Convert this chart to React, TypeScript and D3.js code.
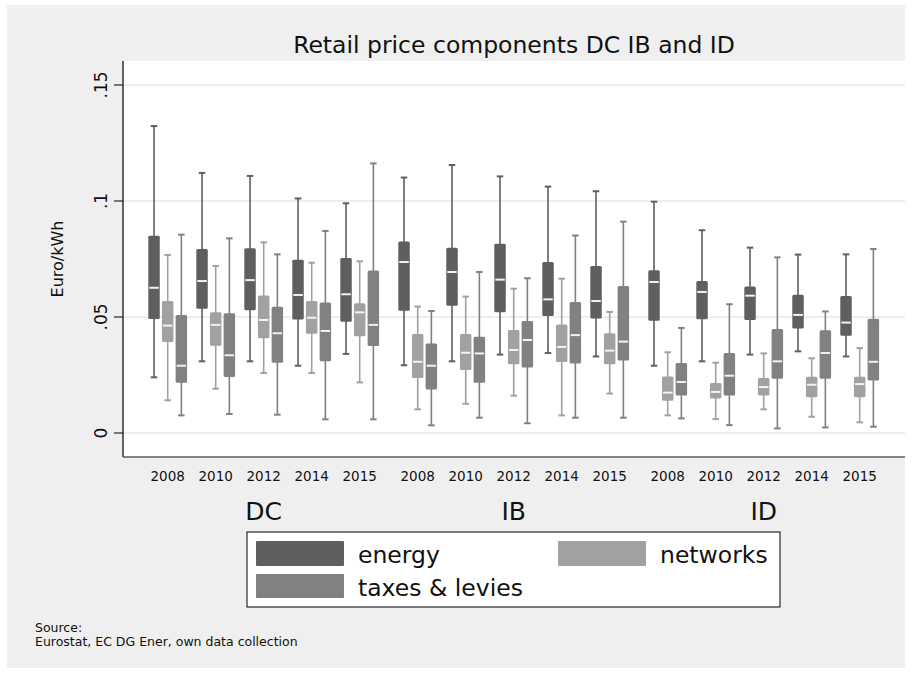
import React from "react";
import * as d3 from "d3";

const groups = ["DC", "IB", "ID"];
const years = ["2008", "2010", "2012", "2014", "2015"];
const components = ["energy", "networks", "taxes"];
const legendLabels = ["energy", "networks", "taxes & levies"];
const yTicks = [0, 0.05, 0.1, 0.15];
const yTickLabels = ["0", ".05", ".1", ".15"];

// each entry: [lower whisker, q1, median, q3, upper whisker]
const energyDC = [
  [0.024, 0.0491, 0.0626, 0.085, 0.1323],
  [0.0309, 0.0536, 0.0655, 0.0793, 0.1121],
  [0.0309, 0.0529, 0.0659, 0.0796, 0.1108],
  [0.029, 0.0489, 0.0595, 0.0747, 0.1011],
  [0.0341, 0.048, 0.0598, 0.0754, 0.099],
];
const networksDC = [
  [0.0141, 0.0392, 0.0463, 0.0569, 0.0767],
  [0.0191, 0.0376, 0.0466, 0.052, 0.072],
  [0.0259, 0.0408, 0.0487, 0.0593, 0.0822],
  [0.0259, 0.0428, 0.0497, 0.0569, 0.0734],
  [0.0218, 0.0417, 0.052, 0.0559, 0.074],
];
const taxesDC = [
  [0.0076, 0.0217, 0.029, 0.0509, 0.0855],
  [0.0082, 0.0241, 0.0335, 0.0516, 0.0839],
  [0.0079, 0.0303, 0.043, 0.0544, 0.077],
  [0.0059, 0.0309, 0.044, 0.0562, 0.0871],
  [0.0059, 0.0375, 0.0466, 0.07, 0.1162],
];
const energyIB = [
  [0.0292, 0.0527, 0.0737, 0.0825, 0.1101],
  [0.0309, 0.0549, 0.0694, 0.0799, 0.1155],
  [0.0338, 0.052, 0.0661, 0.0816, 0.1106],
  [0.0345, 0.0504, 0.0576, 0.0737, 0.1062],
  [0.033, 0.0494, 0.0569, 0.072, 0.1042],
];
const networksIB = [
  [0.0102, 0.0237, 0.0307, 0.0427, 0.0545],
  [0.0126, 0.0272, 0.0346, 0.0427, 0.0588],
  [0.0161, 0.0296, 0.0358, 0.0444, 0.0622],
  [0.0076, 0.0306, 0.0371, 0.0468, 0.0665],
  [0.017, 0.0296, 0.0355, 0.043, 0.0522],
];
const taxesIB = [
  [0.0033, 0.0187, 0.029, 0.0386, 0.0526],
  [0.0066, 0.0217, 0.0343, 0.0415, 0.0694],
  [0.0042, 0.0282, 0.0401, 0.0483, 0.0667],
  [0.0066, 0.03, 0.0422, 0.0565, 0.0851],
  [0.0066, 0.0312, 0.0394, 0.0634, 0.0911],
];
const energyID = [
  [0.029, 0.0484, 0.0651, 0.0701, 0.0997],
  [0.0309, 0.049, 0.0608, 0.0655, 0.0874],
  [0.0338, 0.0487, 0.0592, 0.0631, 0.0799],
  [0.0352, 0.045, 0.0509, 0.0596, 0.0769],
  [0.033, 0.0419, 0.0476, 0.0591, 0.077],
];
const networksID = [
  [0.0076, 0.0139, 0.0174, 0.0244, 0.0348],
  [0.006, 0.0149, 0.0177, 0.0216, 0.0303],
  [0.0102, 0.0162, 0.0198, 0.0237, 0.0343],
  [0.007, 0.0154, 0.0208, 0.0243, 0.0322],
  [0.0046, 0.0154, 0.0211, 0.0243, 0.0366],
];
const taxesID = [
  [0.0063, 0.0162, 0.022, 0.0302, 0.0453],
  [0.0034, 0.0162, 0.0247, 0.0345, 0.0555],
  [0.002, 0.0234, 0.0309, 0.0448, 0.0757],
  [0.0024, 0.0234, 0.0345, 0.0443, 0.0524],
  [0.0027, 0.0226, 0.0307, 0.0493, 0.0793],
];

const dataByGroup: Record<string, number[][][]> = {
  DC: [energyDC, networksDC, taxesDC],
  IB: [energyIB, networksIB, taxesIB],
  ID: [energyID, networksID, taxesID],
};

const colors = ["#5f5f5f", "#a1a1a1", "#818181"];
const FONT = "'DejaVu Sans', Verdana, sans-serif";

export default function App() {
  const W = 917;
  const H = 673;
  const plot = { left: 123, right: 905, top: 61, bottom: 457 };

  const y = d3.scaleLinear().domain([-0.01034, 0.16034]).range([plot.bottom, plot.top]);
  const xGroup = d3.scaleBand<string>().domain(groups).range([143.7, 883.7]).paddingInner(0.04).paddingOuter(0);
  const xYear = d3.scaleBand<string>().domain(years).range([0, xGroup.bandwidth()]).padding(0);
  const xComp = d3.scaleBand<string>().domain(components).range([3.5, xYear.bandwidth() - 3.5]).padding(0);
  const boxW = xComp.bandwidth() * 0.84;
  const capW = 6.5;

  const boxes: React.ReactNode[] = [];
  groups.forEach((g) => {
    years.forEach((yr, yi) => {
      components.forEach((c, ci) => {
        const d = dataByGroup[g][ci][yi];
        const cx = (xGroup(g) as number) + (xYear(yr) as number) + (xComp(c) as number) + xComp.bandwidth() / 2;
        const [lo, q1, med, q3, hi] = d;
        const col = colors[ci];
        boxes.push(
          <g key={`${g}-${yr}-${c}`}>
            <line x1={cx} x2={cx} y1={y(hi)} y2={y(lo)} stroke={col} strokeWidth={1.6} />
            <line x1={cx - capW / 2} x2={cx + capW / 2} y1={y(hi)} y2={y(hi)} stroke={col} strokeWidth={2} />
            <line x1={cx - capW / 2} x2={cx + capW / 2} y1={y(lo)} y2={y(lo)} stroke={col} strokeWidth={2} />
            <rect x={cx - boxW / 2} y={y(q3)} width={boxW} height={y(q1) - y(q3)} fill={col} rx={1.5} />
            <line x1={cx - boxW / 2 + 1} x2={cx + boxW / 2 - 1} y1={y(med)} y2={y(med)} stroke="#f2f2f2" strokeWidth={2} />
          </g>
        );
      });
    });
  });

  return (
    <svg width={W} height={H} style={{ position: "absolute", left: 0, top: 0, background: "#ffffff" }}>
      <rect x={7} y={5} width={898} height={663} fill="#efefef" />
      <rect x={plot.left} y={plot.top} width={plot.right - plot.left} height={plot.bottom - plot.top} fill="#ffffff" />
      {yTicks.map((t) => (
        <line key={`g${t}`} x1={plot.left} x2={plot.right} y1={y(t)} y2={y(t)} stroke="#e9e9e9" strokeWidth={1.5} />
      ))}
      {boxes}
      <line x1={plot.left} x2={plot.left} y1={plot.top} y2={plot.bottom} stroke="#000" strokeWidth={1.2} />
      <line x1={plot.left} x2={plot.right} y1={plot.bottom} y2={plot.bottom} stroke="#5a5a5a" strokeWidth={1.5} />
      {yTicks.map((t, i) => (
        <g key={`t${t}`}>
          <line x1={plot.left - 9} x2={plot.left} y1={y(t)} y2={y(t)} stroke="#000" strokeWidth={1} />
          <text
            transform={`translate(${plot.left - 16},${y(t)}) rotate(-90)`}
            textAnchor="middle"
            fontFamily={FONT}
            fontSize={17}
            fill="#111"
          >
            {yTickLabels[i]}
          </text>
        </g>
      ))}
      <text transform={`translate(63,${(plot.top + plot.bottom) / 2}) rotate(-90)`} textAnchor="middle" fontFamily={FONT} fontSize={16} fill="#111">
        Euro/kWh
      </text>
      <text x={514} y={53} textAnchor="middle" fontFamily={FONT} fontSize={23.5} fill="#111">
        Retail price components DC IB and ID
      </text>
      {groups.map((g) =>
        years.map((yr) => (
          <text
            key={`yl${g}${yr}`}
            x={(xGroup(g) as number) + (xYear(yr) as number) + xYear.bandwidth() / 2}
            y={481}
            textAnchor="middle"
            fontFamily={FONT}
            fontSize={13.5}
            fill="#111"
          >
            {yr}
          </text>
        ))
      )}
      {groups.map((g) => (
        <text
          key={`gl${g}`}
          x={(xGroup(g) as number) + xGroup.bandwidth() / 2}
          y={520}
          textAnchor="middle"
          fontFamily={FONT}
          fontSize={25}
          fill="#111"
        >
          {g}
        </text>
      ))}
      <rect x={247} y={532} width={533} height={75} fill="#ffffff" stroke="#000" strokeWidth={1} />
      <rect x={256} y={541} width={88} height={25} fill={colors[0]} rx={1} />
      <text x={358} y={563} fontFamily={FONT} fontSize={23.5} fill="#111">{legendLabels[0]}</text>
      <rect x={558} y={541} width={88} height={25} fill={colors[1]} rx={1} />
      <text x={660} y={563} fontFamily={FONT} fontSize={23.5} fill="#111">{legendLabels[1]}</text>
      <rect x={256} y={574} width={88} height={24} fill={colors[2]} rx={1} />
      <text x={358} y={596} fontFamily={FONT} fontSize={23.5} fill="#111">{legendLabels[2]}</text>
      <text x={35} y={632} fontFamily={FONT} fontSize={12.5} fill="#111">Source:</text>
      <text x={35} y={646} fontFamily={FONT} fontSize={12.5} fill="#111">Eurostat, EC DG Ener, own data collection</text>
    </svg>
  );
}
